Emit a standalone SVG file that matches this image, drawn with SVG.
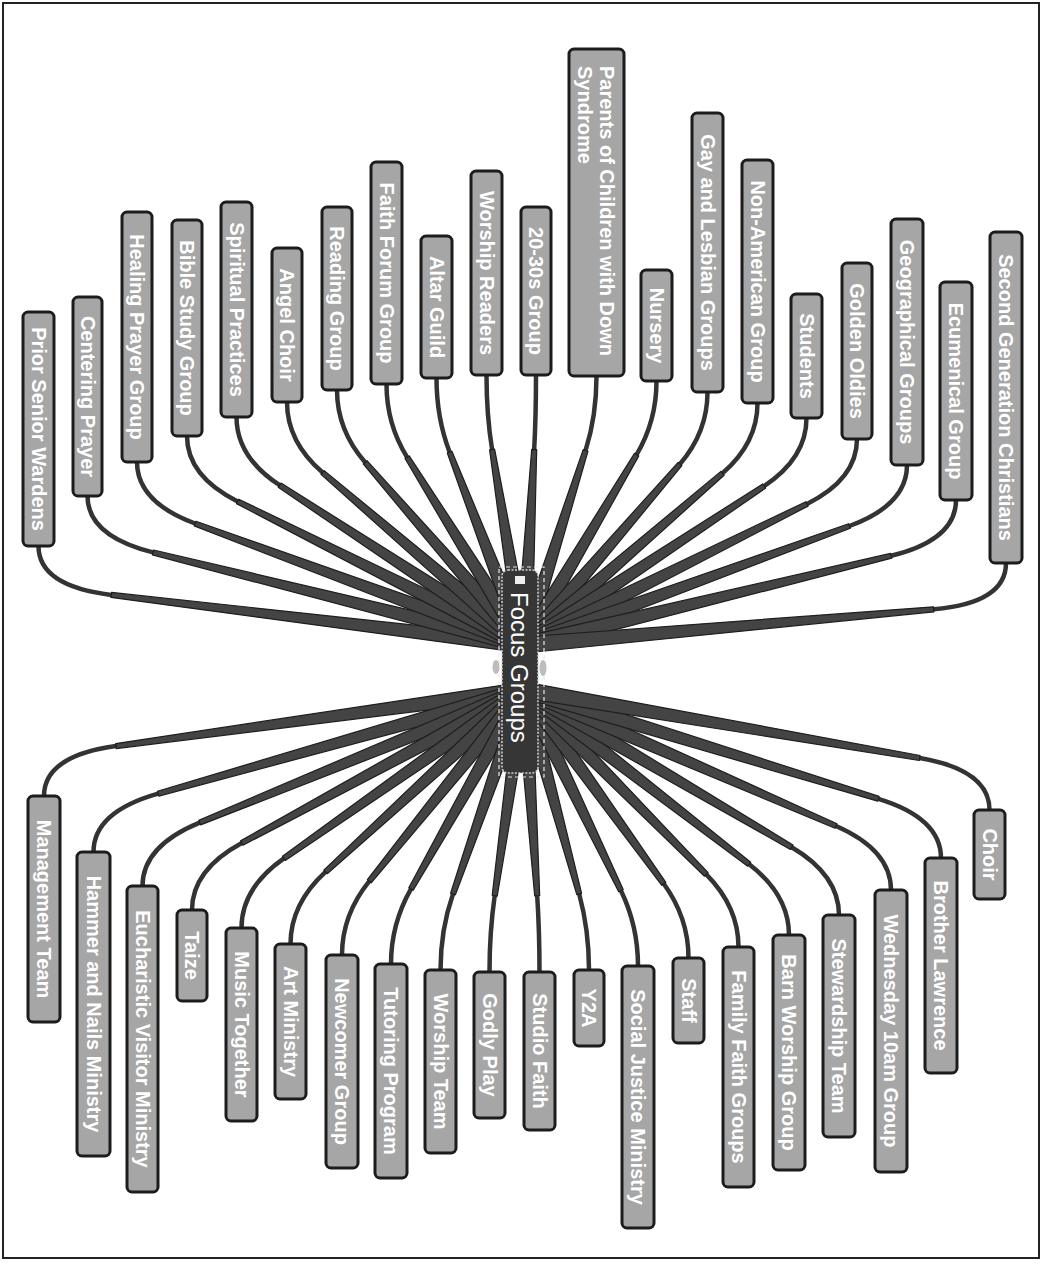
<svg xmlns="http://www.w3.org/2000/svg" width="1051" height="1264" viewBox="0 0 1051 1264">
<style>
.box{fill:#a6a6a6;stroke:#1c1c1c;stroke-width:3}
.lbl{font-family:"Liberation Sans",Arial,sans-serif;font-weight:bold;font-size:20px;fill:#fff;text-anchor:middle;dominant-baseline:central}
.q{fill:none;stroke:#333;stroke-width:4.5;stroke-linecap:round}
.t{fill:#444;stroke:#1e1e1e;stroke-width:1.2;stroke-linejoin:round}
</style>
<rect x="0" y="0" width="1051" height="1264" fill="#fff"/>
<rect x="3" y="3" width="1036" height="1255" fill="none" stroke="#222" stroke-width="2"/>
<g id="connectors">
<path class="q" d="M38.5,546 Q38.5,586 111.3,594.9"/><polygon class="t" points="111.0,597.4 523.0,652.9 525.0,637.1 111.6,592.4"/>
<path class="q" d="M87.5,496 Q87.5,536 153,552.4"/><polygon class="t" points="152.4,554.8 522.1,652.8 525.9,637.2 153.6,550.0"/>
<path class="q" d="M137,462 Q137,502 195.1,523.5"/><polygon class="t" points="194.2,525.9 521.2,652.5 526.8,637.5 196.0,521.2"/>
<path class="q" d="M187,436 Q187,476 237.6,501.4"/><polygon class="t" points="236.5,503.6 520.4,652.2 527.6,637.9 238.7,499.2"/>
<path class="q" d="M236.5,417 Q236.5,457 279.6,485.2"/><polygon class="t" points="278.2,487.3 519.6,651.7 528.4,638.3 281.0,483.1"/>
<path class="q" d="M287,402 Q287,442 322.6,472.5"/><polygon class="t" points="321.0,474.4 518.8,651.1 529.2,638.9 324.2,470.6"/>
<path class="q" d="M337,390 Q337,430 365.1,462.3"/><polygon class="t" points="363.2,463.9 518.0,650.3 530.0,639.8 367.0,460.7"/>
<path class="q" d="M386.5,384 Q386.5,424 407.1,457.2"/><polygon class="t" points="405.0,458.5 517.2,649.2 530.8,640.8 409.2,455.9"/>
<path class="q" d="M436.5,378 Q436.5,418 449.6,452.1"/><polygon class="t" points="447.3,453.0 516.5,647.9 531.5,642.1 451.9,451.2"/>
<path class="q" d="M486.5,375 Q486.5,415 492.1,449.5"/><polygon class="t" points="489.6,449.9 516.1,646.3 531.9,643.7 494.6,449.1"/>
<path class="q" d="M536,375 Q536,415 534.2,449.5"/><polygon class="t" points="531.7,449.4 516.0,644.6 532.0,645.4 536.7,449.6"/>
<path class="q" d="M596.5,376 Q596.5,416 585.6,450.4"/><polygon class="t" points="583.2,449.6 516.4,642.6 531.6,647.4 588.0,451.2"/>
<path class="q" d="M656.5,381 Q656.5,421 636.6,454.6"/><polygon class="t" points="634.5,453.3 517.1,640.9 530.9,649.1 638.8,455.9"/>
<path class="q" d="M707.5,392 Q707.5,432 680,464"/><polygon class="t" points="678.1,462.4 517.9,639.8 530.1,650.2 681.9,465.6"/>
<path class="q" d="M757.5,403 Q757.5,443 722.5,473.3"/><polygon class="t" points="720.9,471.4 518.8,639.0 529.2,651.0 724.1,475.2"/>
<path class="q" d="M806.5,418 Q806.5,458 764.1,486.1"/><polygon class="t" points="762.7,484.0 519.6,638.3 528.4,651.7 765.5,488.2"/>
<path class="q" d="M857,439 Q857,479 807,503.9"/><polygon class="t" points="805.9,501.7 520.4,637.8 527.6,652.2 808.1,506.1"/>
<path class="q" d="M907,465 Q907,505 849.5,526"/><polygon class="t" points="848.6,523.7 521.3,637.5 526.7,652.5 850.4,528.3"/>
<path class="q" d="M956,500 Q956,540 891.2,555.8"/><polygon class="t" points="890.6,553.4 522.1,637.2 525.9,652.8 891.8,558.2"/>
<path class="q" d="M1006,563 Q1006,603 933.7,609.3"/><polygon class="t" points="933.5,606.8 523.3,637.0 524.7,653.0 933.9,611.8"/>
<path class="q" d="M44,796 Q44,756 116,746.1"/><polygon class="t" points="116.3,748.6 525.1,697.9 522.9,682.1 115.7,743.6"/>
<path class="q" d="M93.5,852 Q93.5,812 158.1,793.7"/><polygon class="t" points="158.8,796.1 526.2,697.7 521.8,682.3 157.4,791.3"/>
<path class="q" d="M142.5,886 Q142.5,846 199.7,822.6"/><polygon class="t" points="200.6,824.9 527.0,697.4 521.0,682.6 198.8,820.3"/>
<path class="q" d="M192,910 Q192,870 241.8,843"/><polygon class="t" points="243.0,845.2 527.8,697.0 520.2,683.0 240.6,840.8"/>
<path class="q" d="M241.5,928 Q241.5,888 283.9,858.3"/><polygon class="t" points="285.3,860.4 528.6,696.6 519.4,683.5 282.5,856.3"/>
<path class="q" d="M290.5,944 Q290.5,904 325.5,871.9"/><polygon class="t" points="327.2,873.7 529.4,695.9 518.6,684.1 323.8,870.1"/>
<path class="q" d="M342,955 Q342,915 369.3,881.2"/><polygon class="t" points="371.2,882.8 530.2,695.0 517.8,685.0 367.4,879.6"/>
<path class="q" d="M391,964 Q391,924 411,888.9"/><polygon class="t" points="413.2,890.1 531.0,694.0 517.0,686.0 408.8,887.7"/>
<path class="q" d="M440.5,970 Q440.5,930 453,894"/><polygon class="t" points="455.4,894.8 531.6,692.6 516.4,687.4 450.6,893.2"/>
<path class="q" d="M489.5,972 Q489.5,932 494.7,895.7"/><polygon class="t" points="497.2,896.1 531.9,691.1 516.1,688.9 492.2,895.3"/>
<path class="q" d="M539.5,972 Q539.5,932 537.2,895.7"/><polygon class="t" points="539.7,895.5 532.0,689.5 516.0,690.5 534.7,895.9"/>
<path class="q" d="M589,970 Q589,930 579.2,894"/><polygon class="t" points="581.6,893.3 531.7,687.9 516.3,692.1 576.8,894.7"/>
<path class="q" d="M638,966 Q638,926 620.9,890.6"/><polygon class="t" points="623.2,889.5 531.2,686.5 516.8,693.5 618.7,891.7"/>
<path class="q" d="M688.5,958 Q688.5,918 663.8,883.8"/><polygon class="t" points="665.8,882.3 530.5,685.3 517.5,694.7 661.8,885.3"/>
<path class="q" d="M738.5,947 Q738.5,907 706.3,874.4"/><polygon class="t" points="708.1,872.6 529.7,684.4 518.3,695.6 704.5,876.2"/>
<path class="q" d="M789,935 Q789,895 749.2,864.2"/><polygon class="t" points="750.7,862.2 528.9,683.7 519.1,696.3 747.7,866.2"/>
<path class="q" d="M839,915 Q839,875 791.7,847.2"/><polygon class="t" points="793.0,845.0 528.1,683.1 520.0,696.9 790.4,849.4"/>
<path class="q" d="M891,890 Q891,850 836,826"/><polygon class="t" points="837.0,823.7 527.2,682.7 520.8,697.3 835.0,828.3"/>
<path class="q" d="M941,858 Q941,818 878.4,798.8"/><polygon class="t" points="879.1,796.4 526.3,682.4 521.7,697.6 877.7,801.2"/>
<path class="q" d="M989.5,810 Q989.5,770 919.7,758"/><polygon class="t" points="920.1,755.5 525.4,682.1 522.6,697.9 919.3,760.5"/>
</g>
<g id="n-prior-senior-wardens"><rect class="box" x="23" y="312" width="31" height="234" rx="5"/><text class="lbl" transform="translate(38.5 429) rotate(90)">Prior Senior Wardens</text></g>
<g id="n-centering-prayer"><rect class="box" x="73" y="297" width="29" height="199" rx="5"/><text class="lbl" transform="translate(87.5 396.5) rotate(90)">Centering Prayer</text></g>
<g id="n-healing-prayer-group"><rect class="box" x="122" y="212" width="30" height="250" rx="5"/><text class="lbl" transform="translate(137 337) rotate(90)">Healing Prayer Group</text></g>
<g id="n-bible-study-group"><rect class="box" x="172" y="220" width="30" height="216" rx="5"/><text class="lbl" transform="translate(187 328) rotate(90)">Bible Study Group</text></g>
<g id="n-spiritual-practices"><rect class="box" x="221" y="202" width="31" height="215" rx="5"/><text class="lbl" transform="translate(236.5 309.5) rotate(90)">Spiritual Practices</text></g>
<g id="n-angel-choir"><rect class="box" x="272" y="248" width="30" height="154" rx="5"/><text class="lbl" transform="translate(287 325) rotate(90)">Angel Choir</text></g>
<g id="n-reading-group"><rect class="box" x="322" y="207" width="30" height="183" rx="5"/><text class="lbl" transform="translate(337 298.5) rotate(90)">Reading Group</text></g>
<g id="n-faith-forum-group"><rect class="box" x="371" y="162" width="31" height="222" rx="5"/><text class="lbl" transform="translate(386.5 273) rotate(90)">Faith Forum Group</text></g>
<g id="n-altar-guild"><rect class="box" x="421" y="236" width="31" height="142" rx="5"/><text class="lbl" transform="translate(436.5 307) rotate(90)">Altar Guild</text></g>
<g id="n-worship-readers"><rect class="box" x="471" y="171" width="31" height="204" rx="5"/><text class="lbl" transform="translate(486.5 273) rotate(90)">Worship Readers</text></g>
<g id="n-20-30s-group"><rect class="box" x="521" y="207" width="30" height="168" rx="5"/><text class="lbl" transform="translate(536 291) rotate(90)">20-30s Group</text></g>
<g id="n-parents-down-syndrome"><rect class="box" x="569" y="49" width="55" height="327" rx="5"/><text class="lbl" style="text-anchor:start" transform="translate(607 66) rotate(90)">Parents of Children with Down<tspan x="0" dy="22">Syndrome</tspan></text></g>
<g id="n-nursery"><rect class="box" x="641" y="270" width="31" height="111" rx="5"/><text class="lbl" transform="translate(656.5 325.5) rotate(90)">Nursery</text></g>
<g id="n-gay-lesbian-groups"><rect class="box" x="692" y="113" width="31" height="279" rx="5"/><text class="lbl" transform="translate(707.5 252.5) rotate(90)">Gay and Lesbian Groups</text></g>
<g id="n-non-american-group"><rect class="box" x="742" y="160" width="31" height="243" rx="5"/><text class="lbl" transform="translate(757.5 281.5) rotate(90)">Non-American Group</text></g>
<g id="n-students"><rect class="box" x="791" y="294" width="31" height="124" rx="5"/><text class="lbl" transform="translate(806.5 356) rotate(90)">Students</text></g>
<g id="n-golden-oldies"><rect class="box" x="842" y="263" width="30" height="176" rx="5"/><text class="lbl" transform="translate(857 351) rotate(90)">Golden Oldies</text></g>
<g id="n-geographical-groups"><rect class="box" x="891" y="219" width="32" height="246" rx="5"/><text class="lbl" transform="translate(907 342) rotate(90)">Geographical Groups</text></g>
<g id="n-ecumenical-group"><rect class="box" x="940" y="282" width="32" height="218" rx="5"/><text class="lbl" transform="translate(956 391) rotate(90)">Ecumenical Group</text></g>
<g id="n-second-generation"><rect class="box" x="990" y="232" width="32" height="331" rx="5"/><text class="lbl" transform="translate(1006 397.5) rotate(90)">Second Generation Christians</text></g>
<g id="n-management-team"><rect class="box" x="28" y="796" width="32" height="226" rx="5"/><text class="lbl" transform="translate(44 909) rotate(90)">Management Team</text></g>
<g id="n-hammer-nails"><rect class="box" x="77" y="852" width="33" height="304" rx="5"/><text class="lbl" transform="translate(93.5 1004) rotate(90)">Hammer and Nails Ministry</text></g>
<g id="n-eucharistic-visitor"><rect class="box" x="127" y="886" width="31" height="306" rx="5"/><text class="lbl" transform="translate(142.5 1039) rotate(90)">Eucharistic Visitor Ministry</text></g>
<g id="n-taize"><rect class="box" x="177" y="910" width="30" height="91" rx="5"/><text class="lbl" transform="translate(192 955.5) rotate(90)">Taize</text></g>
<g id="n-music-together"><rect class="box" x="226" y="928" width="31" height="193" rx="5"/><text class="lbl" transform="translate(241.5 1024.5) rotate(90)">Music Together</text></g>
<g id="n-art-ministry"><rect class="box" x="275" y="944" width="31" height="155" rx="5"/><text class="lbl" transform="translate(290.5 1021.5) rotate(90)">Art Ministry</text></g>
<g id="n-newcomer-group"><rect class="box" x="326" y="955" width="32" height="213" rx="5"/><text class="lbl" transform="translate(342 1061.5) rotate(90)">Newcomer Group</text></g>
<g id="n-tutoring-program"><rect class="box" x="375" y="964" width="32" height="214" rx="5"/><text class="lbl" transform="translate(391 1071) rotate(90)">Tutoring Program</text></g>
<g id="n-worship-team"><rect class="box" x="425" y="970" width="31" height="183" rx="5"/><text class="lbl" transform="translate(440.5 1061.5) rotate(90)">Worship Team</text></g>
<g id="n-godly-play"><rect class="box" x="474" y="972" width="31" height="146" rx="5"/><text class="lbl" transform="translate(489.5 1045) rotate(90)">Godly Play</text></g>
<g id="n-studio-faith"><rect class="box" x="524" y="972" width="31" height="158" rx="5"/><text class="lbl" transform="translate(539.5 1051) rotate(90)">Studio Faith</text></g>
<g id="n-y2a"><rect class="box" x="574" y="970" width="30" height="76" rx="5"/><text class="lbl" transform="translate(589 1008) rotate(90)">Y2A</text></g>
<g id="n-social-justice"><rect class="box" x="622" y="966" width="32" height="262" rx="5"/><text class="lbl" transform="translate(638 1097) rotate(90)">Social Justice Ministry</text></g>
<g id="n-staff"><rect class="box" x="673" y="958" width="31" height="85" rx="5"/><text class="lbl" transform="translate(688.5 1000.5) rotate(90)">Staff</text></g>
<g id="n-family-faith-groups"><rect class="box" x="723" y="947" width="31" height="240" rx="5"/><text class="lbl" transform="translate(738.5 1067) rotate(90)">Family Faith Groups</text></g>
<g id="n-barn-worship-group"><rect class="box" x="773" y="935" width="32" height="235" rx="5"/><text class="lbl" transform="translate(789 1052.5) rotate(90)">Barn Worship Group</text></g>
<g id="n-stewardship-team"><rect class="box" x="823" y="915" width="32" height="222" rx="5"/><text class="lbl" transform="translate(839 1026) rotate(90)">Stewardship Team</text></g>
<g id="n-wednesday-group"><rect class="box" x="875" y="890" width="32" height="282" rx="5"/><text class="lbl" transform="translate(891 1031) rotate(90)">Wednesday 10am Group</text></g>
<g id="n-brother-lawrence"><rect class="box" x="925" y="858" width="32" height="215" rx="5"/><text class="lbl" transform="translate(941 965.5) rotate(90)">Brother Lawrence</text></g>
<g id="n-choir"><rect class="box" x="974" y="810" width="31" height="89" rx="5"/><text class="lbl" transform="translate(989.5 854.5) rotate(90)">Choir</text></g>
<g id="n-focus-groups">
<rect x="499" y="567" width="45" height="210" fill="none" stroke="#e6e6e6" stroke-width="1.2" stroke-dasharray="4 3"/>
<rect x="502" y="570" width="36" height="203" rx="6" fill="#363636" stroke="#cfcfcf" stroke-width="1.5" stroke-dasharray="2 1.5"/>
<ellipse cx="496" cy="667" rx="3.5" ry="7" fill="#bdbdbd"/>
<ellipse cx="543" cy="668" rx="3.5" ry="8" fill="#bdbdbd"/>
<rect x="515" y="576" width="10" height="8" fill="#eee"/>
<text transform="translate(519 592) rotate(90)" font-family="'Liberation Sans',Arial,sans-serif" font-size="24" fill="#fff" dominant-baseline="central">Focus Groups</text>
</g>
</svg>
